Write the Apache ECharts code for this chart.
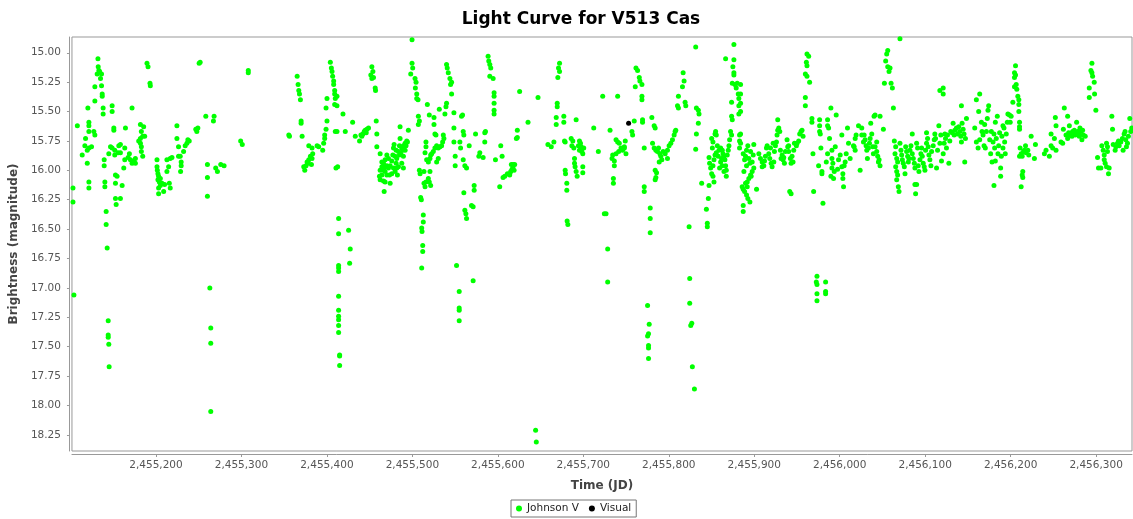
<!DOCTYPE html>
<html>
<head>
<meta charset="utf-8">
<title>Light Curve for V513 Cas</title>
<script src="https://cdn.jsdelivr.net/npm/echarts@6/dist/echarts.min.js"></script>
<style>
  html, body { margin: 0; padding: 0; background: #fff; }
  #main { width: 1133px; height: 519px; }
</style>
</head>
<body>
<div id="main"></div>
<script>
// tick labels
let jdTicks = [2455200, 2455300, 2455400, 2455500, 2455600, 2455700, 2455800, 2455900, 2456000, 2456100, 2456200, 2456300]
let magTicks = [15.00, 15.25, 15.50, 15.75, 16.00, 16.25, 16.50, 16.75, 17.00, 17.25, 17.50, 17.75, 18.00, 18.25]

// Johnson V, first season  [JD, mag]
let season1 = [
  [2455102.9,16.15],[2455102.9,16.27],[2455104.0,17.06],[2455108.0,15.62],
  [2455120.3,15.47],[2455117.6,15.73],[2455116.8,15.79],[2455119.6,15.83],[2455121.5,15.81],[2455124.6,15.80],[2455113.7,15.87],[2455119.6,15.94],[2455121.5,15.59],[2455121.5,15.62],[2455121.5,15.67],[2455127.3,15.67],[2455128.5,15.70],[2455121.5,16.10],[2455121.5,16.15],
  [2455132.1,15.05],[2455132.4,15.12],[2455133.2,15.15],[2455131.2,15.18],[2455134.0,15.16],[2455135.1,15.22],[2455136.3,15.18],[2455128.5,15.29],[2455136.3,15.28],[2455137.1,15.35],[2455137.1,15.37],[2455128.5,15.41],[2455138.2,15.47],[2455138.2,15.52],
  [2455139.4,15.91],[2455139.4,15.96],[2455140.2,16.10],[2455140.2,16.14],[2455141.7,16.35],[2455141.7,16.46],[2455142.9,16.66],[2455144.1,17.28],[2455144.1,17.40],[2455144.1,17.42],[2455144.8,17.48],[2455145.2,17.67],
  [2455148.7,15.45],[2455148.7,15.50],[2455150.7,15.64],[2455150.7,15.66],[2455146.8,15.80],[2455148.7,15.81],[2455144.8,15.86],[2455151.8,15.83],[2455151.8,15.87],[2455156.5,15.79],[2455158.4,15.78],[2455155.7,15.85],[2455158.4,15.85],[2455163.5,15.81],[2455164.3,15.64],[2455163.5,15.91],[2455167.4,15.89],[2455168.9,15.86],[2455170.1,15.91],[2455172.0,15.94],[2455175.9,15.94],[2455172.0,15.47],[2455152.6,16.04],[2455154.5,16.05],[2455152.6,16.11],[2455160.4,16.13],[2455162.3,15.98],[2455152.6,16.24],[2455158.4,16.24],[2455153.4,16.29],[2455175.9,15.90],[2455174.0,15.92],
  [2455181.8,15.61],[2455185.6,15.63],[2455182.9,15.67],[2455179.8,15.75],[2455181.8,15.77],[2455184.5,15.71],[2455186.8,15.71],[2455182.9,15.80],[2455182.9,15.84],[2455184.5,15.88],[2455181.8,15.73],
  [2455189.5,15.09],[2455190.7,15.12],[2455193.0,15.26],[2455193.4,15.28],
  [2455201.2,15.91],[2455201.2,15.97],[2455201.6,16.00],[2455202.3,16.03],[2455203.1,16.05],[2455202.3,16.08],[2455203.9,16.10],[2455205.1,16.07],[2455207.0,16.11],[2455203.1,16.15],[2455203.1,16.20],[2455209.0,16.18],[2455210.1,16.12],[2455212.8,16.01],[2455214.8,15.97],[2455212.8,15.91],[2455216.7,15.90],[2455218.7,15.89],[2455215.6,16.11],[2455216.7,16.15],[2455205.1,16.13],
  [2455224.5,15.62],[2455224.5,15.73],[2455226.4,15.80],[2455228.4,15.88],[2455229.5,15.93],[2455229.5,15.96],[2455228.8,16.01],[2455232.3,15.84],[2455234.2,15.79],[2455236.2,15.77],[2455237.3,15.74],[2455238.9,15.75],[2455226.4,15.88],
  [2455246.6,15.65],[2455247.8,15.67],[2455249.0,15.64],[2455250.5,15.09],[2455251.7,15.08],
  [2455258.3,15.54],[2455268.0,15.54],[2455267.2,15.58],
  [2455260.2,15.95],[2455260.2,16.06],[2455260.2,16.22],[2455269.9,15.98],[2455271.9,16.01],[2455275.8,15.95],[2455279.7,15.96],
  [2455263.0,17.00],[2455264.1,17.34],[2455264.1,17.47],[2455264.1,18.05],
  [2455308.0,15.15],[2455308.0,15.17],[2455299.1,15.75],[2455301.0,15.78]
]

// Johnson V, second season
let season2 = [
  [2455355.4,15.70],[2455356.2,15.71],
  [2455365.2,15.20],[2455366.3,15.27],[2455367.1,15.32],[2455367.9,15.35],[2455369.0,15.40],
  [2455369.8,15.58],[2455369.8,15.60],[2455371.0,15.71],
  [2455378.8,15.79],[2455382.6,15.81],[2455388.5,15.79],[2455390.4,15.80],[2455395.1,15.83],[2455396.2,15.77],[2455397.4,15.73],[2455397.4,15.70],[2455399.0,15.65],[2455400.1,15.58],[2455372.9,15.97],[2455374.1,16.00],[2455376.8,15.93],[2455378.8,15.91],[2455380.7,15.88],[2455382.6,15.90],[2455381.9,15.95],[2455383.4,15.86],[2455378.0,15.94],[2455375.6,15.96],
  [2455404.0,15.08],[2455405.2,15.13],[2455406.0,15.16],[2455406.7,15.20],[2455407.9,15.24],[2455407.9,15.27],[2455409.1,15.32],[2455409.1,15.35],[2455409.8,15.39],[2455409.1,15.44],[2455400.1,15.39],[2455399.0,15.47],[2455409.8,15.67],[2455410.6,15.98],
  [2455411.8,15.37],[2455411.8,15.45],[2455411.8,15.67],[2455412.6,15.97],[2455413.7,16.41],[2455413.7,16.54],[2455413.7,16.81],[2455413.7,16.83],[2455413.7,16.86],[2455413.7,17.07],[2455413.7,17.19],[2455413.7,17.24],[2455413.7,17.27],[2455413.7,17.32],[2455413.7,17.38],[2455414.9,17.57],[2455414.9,17.58],[2455414.9,17.66],
  [2455418.8,15.52],[2455421.5,15.67],[2455430.1,15.59],[2455425.4,16.51],[2455427.3,16.67],[2455426.6,16.79],
  [2455433.2,15.71],[2455438.2,15.75],[2455439.8,15.70],[2455442.1,15.69],[2455443.7,15.67],[2455444.8,15.66],[2455446.8,15.65],[2455448.7,15.64],[2455446.0,15.68],[2455440.9,15.71],
  [2455452.6,15.12],[2455453.8,15.16],[2455451.4,15.19],[2455454.5,15.21],[2455452.6,15.22],[2455456.5,15.30],[2455456.9,15.32],[2455457.7,15.58],[2455458.4,15.69],[2455458.4,15.80],
  [2455462.3,15.86],[2455464.3,15.93],[2455466.2,15.94],[2455468.1,15.91],[2455470.1,15.87],[2455464.3,15.97],[2455462.3,16.00],[2455466.2,16.00],[2455468.1,15.97],[2455470.1,15.96],[2455472.0,15.98],[2455461.5,16.05],[2455462.3,16.08],[2455466.2,16.09],[2455467.0,16.18],[2455468.1,16.10],[2455470.1,16.04],[2455473.2,16.04],[2455474.0,16.11],[2455475.9,15.92],[2455477.1,15.87],[2455477.9,15.81],[2455478.6,15.78],[2455479.8,15.88],[2455481.0,15.94],[2455481.7,15.98],[2455482.5,16.04],[2455483.7,15.97],[2455483.7,15.84],[2455484.9,15.79],[2455485.6,15.73],[2455485.6,15.63],[2455487.6,15.81],[2455488.7,15.83],[2455489.5,15.88],[2455489.5,15.98],[2455487.6,15.94],[2455491.5,15.77],[2455492.6,15.79],[2455493.4,15.75],[2455494.2,15.76],[2455495.3,15.66],[2455477.9,15.98],[2455479.8,16.01],[2455475.9,16.03],[2455472.0,15.90],[2455474.0,15.96],[2455468.1,16.01],[2455464.3,16.04],[2455481.7,15.90],[2455484.9,15.87],[2455486.4,15.86],[2455489.5,15.79],[2455491.5,15.83],[2455481.0,15.83],
  [2455499.6,14.89],[2455499.6,15.09],[2455500.4,15.13],[2455498.1,15.18],[2455503.1,15.22],[2455504.3,15.25],[2455503.5,15.30],[2455505.1,15.35],[2455505.1,15.39],[2455506.6,15.40],[2455507.0,15.54],[2455508.2,15.58],[2455507.0,15.61],[2455508.2,16.00],[2455509.0,16.03],[2455509.7,16.23],[2455510.5,16.25],[2455512.8,16.38],[2455512.8,16.44],[2455510.9,16.49],[2455511.3,16.52],[2455512.1,16.64],[2455512.1,16.69],[2455510.9,16.83],
  [2455517.5,15.44],[2455519.8,15.53],[2455525.3,15.55],[2455525.3,15.61],[2455526.4,15.69],[2455527.6,15.70],[2455515.9,15.76],[2455515.9,15.80],[2455514.8,15.85],[2455516.7,15.91],[2455518.7,15.93],[2455520.6,15.90],[2455521.4,15.87],[2455522.6,15.86],[2455524.5,15.84],[2455526.4,15.81],[2455528.4,15.79],[2455530.3,15.81],[2455532.3,15.80],[2455534.2,15.79],[2455535.4,15.76],[2455536.2,15.70],[2455536.9,15.73],[2455528.4,15.93],[2455530.3,15.90],[2455520.6,16.01],[2455518.7,16.07],[2455519.8,16.10],[2455515.9,16.10],[2455513.6,16.11],[2455514.8,16.14],[2455521.4,16.13],[2455513.6,16.01],[2455531.5,15.48],[2455538.1,15.52],[2455540.0,15.43],[2455539.3,15.46],
  [2455540.0,15.10],[2455540.8,15.13],[2455542.0,15.17],[2455543.9,15.22],[2455545.9,15.25],[2455544.7,15.27],[2455545.9,15.35],[2455548.6,15.51],[2455548.6,15.64],[2455548.6,15.76],[2455550.1,15.88],[2455550.1,15.96],[2455551.7,16.81],[2455554.8,17.03],[2455554.8,17.17],[2455554.8,17.19],[2455554.8,17.28],
  [2455555.6,15.76],[2455556.4,15.81],[2455557.5,15.54],[2455558.7,15.53],[2455559.5,15.67],[2455560.2,15.70],[2455559.5,15.91],[2455561.4,15.96],[2455563.4,15.98],[2455560.2,16.19],[2455561.4,16.34],[2455562.6,16.37],[2455563.4,16.41],[2455566.5,15.79],[2455569.2,16.30],
  [2455572.3,16.13],[2455572.3,16.17],[2455571.1,16.31],[2455571.1,16.94],
  [2455573.9,15.69],[2455584.7,15.68],[2455585.5,15.67],[2455584.7,15.76],[2455578.9,15.85],[2455577.8,15.88],[2455582.8,15.89],
  [2455588.6,15.03],[2455589.4,15.07],[2455590.6,15.10],[2455591.7,15.13],[2455590.6,15.20],[2455594.5,15.22],[2455595.6,15.34],[2455595.6,15.37],[2455595.6,15.43],[2455595.6,15.49],[2455595.6,15.52],
  [2455597.2,15.91],[2455603.4,15.79],[2455605.0,15.88],[2455602.2,16.14],
  [2455606.1,16.06],[2455608.1,16.05],[2455611.2,16.03],[2455613.9,16.03],[2455615.1,16.01],[2455616.6,15.99],[2455617.8,15.97],[2455619.0,16.00],[2455615.8,15.95],[2455617.8,15.95],[2455619.7,15.95],[2455613.9,16.04],
  [2455622.8,15.66],[2455621.7,15.73],[2455622.8,15.72],[2455625.5,15.33],[2455635.3,15.59],[2455647.0,15.38],
  [2455644.2,18.21],[2455645.0,18.31]
]

// Johnson V, third season
let season3 = [
  [2455658.6,15.78],[2455662.5,15.80],[2455665.6,15.76],
  [2455672.2,15.09],[2455671.0,15.13],[2455672.2,15.16],[2455670.2,15.21],[2455669.5,15.43],[2455669.5,15.46],[2455668.3,15.55],[2455668.3,15.61],[2455677.2,15.54],[2455677.2,15.59],[2455678.0,15.75],[2455678.8,15.76],
  [2455678.8,16.00],[2455679.2,16.03],[2455680.7,16.11],[2455680.7,16.17],[2455681.1,16.43],[2455681.9,16.46],
  [2455685.8,15.73],[2455687.7,15.75],[2455686.6,15.79],[2455688.9,15.81],[2455689.7,15.90],[2455689.7,15.94],[2455690.4,15.97],[2455691.6,16.01],[2455692.8,16.05],[2455691.6,15.57],[2455695.5,15.75],[2455696.7,15.77],[2455697.4,15.80],[2455695.5,15.83],[2455698.2,15.84],[2455700.5,15.81],[2455699.4,15.86],[2455699.4,15.97],[2455699.4,16.02],[2455694.3,15.79],
  [2455712.2,15.64],[2455717.6,15.84],[2455722.7,15.37],[2455724.6,16.37],
  [2455731.3,15.66],[2455726.6,16.37],[2455728.5,16.67],[2455728.5,16.95],[2455740.2,15.37],
  [2455738.3,15.74],[2455740.2,15.76],[2455742.1,15.77],[2455744.1,15.81],[2455746.0,15.83],[2455748.0,15.80],[2455749.1,15.75],[2455749.9,15.86],[2455741.4,15.84],[2455738.3,15.86],[2455734.4,15.87],[2455733.6,15.90],[2455736.3,15.92],[2455736.3,15.96],[2455735.2,16.07],[2455735.2,16.11],[2455748.0,15.81],
  [2455759.6,15.58],[2455756.9,15.67],[2455757.7,15.70],
  [2455761.6,15.13],[2455763.5,15.15],[2455765.5,15.21],[2455766.2,15.24],[2455768.6,15.27],[2455760.8,15.29],[2455768.6,15.37],[2455768.6,15.40],[2455769.3,15.57],[2455769.3,15.59],[2455771.3,15.81],[2455771.3,16.14],[2455771.3,16.18],
  [2455778.3,16.32],[2455778.3,16.41],[2455778.3,16.53],[2455775.2,17.15],[2455777.1,17.31],[2455776.3,17.39],[2455775.2,17.41],[2455776.3,17.49],[2455776.3,17.51],[2455776.3,17.60],
  [2455780.2,15.55],[2455782.9,15.62],[2455784.1,15.64],[2455781.0,15.77],[2455782.9,15.81],[2455784.9,15.83],[2455786.8,15.84],[2455788.0,15.81],[2455789.6,15.86],[2455790.7,15.88],[2455788.8,15.93],[2455791.9,15.91],[2455793.4,15.84],[2455795.8,15.86],[2455798.5,15.83],[2455798.5,15.90],[2455800.4,15.79],[2455802.4,15.77],[2455804.3,15.74],[2455806.3,15.70],[2455807.4,15.67],[2455808.2,15.66],[2455784.1,16.00],[2455785.7,16.02],[2455784.1,16.08],[2455784.9,16.06],[2455811.3,15.37],[2455810.2,15.45],[2455811.3,15.47],[2455816.8,15.17],[2455817.9,15.24],[2455816.0,15.29],[2455819.1,15.42],[2455819.9,15.45],
  [2455831.5,14.95],[2455823.8,16.48],[2455824.5,16.92],[2455824.5,17.13],[2455826.9,17.30],[2455825.7,17.32],[2455827.6,17.67],[2455830.0,17.86],
  [2455832.3,15.47],[2455834.6,15.49],[2455835.4,15.52],[2455834.6,15.60],[2455832.3,15.69],[2455831.5,15.82],[2455838.5,16.11],
  [2455847.1,16.13],[2455846.3,16.24],[2455844.0,16.33],[2455845.1,16.45],[2455845.1,16.48],
  [2455847.1,15.89],[2455847.8,15.94],[2455849.0,15.98],[2455850.2,16.03],[2455851.7,16.05],[2455852.9,16.10],[2455851.7,15.96],[2455852.9,15.91],[2455851.0,15.81],[2455851.7,15.76],[2455850.2,15.73],[2455854.1,15.69],[2455854.8,15.67],[2455855.6,15.70],[2455856.8,15.79],[2455858.7,15.83],[2455860.7,15.81],[2455862.6,15.83],[2455863.4,15.86],[2455864.6,15.88],[2455865.7,15.91],[2455866.5,15.96],[2455867.3,16.00],[2455867.3,16.05],[2455868.4,15.87],[2455869.6,15.83],[2455870.4,15.79],[2455871.2,15.74],[2455872.3,15.67],[2455857.9,15.88],[2455860.7,15.93],[2455862.6,15.96],[2455855.6,15.85],[2455854.1,15.87],[2455859.5,15.98],[2455864.6,16.01],[2455861.8,15.90],
  [2455876.2,14.93],[2455866.5,15.05],[2455876.2,15.06],[2455875.0,15.12],[2455876.2,15.17],[2455876.2,15.19],[2455874.3,15.26],[2455877.4,15.27],[2455880.1,15.26],[2455878.9,15.30],[2455881.3,15.35],[2455882.0,15.39],[2455882.0,15.45],[2455882.0,15.52],[2455873.5,15.42],[2455873.5,15.54],[2455874.3,15.57],[2455873.5,15.70],[2455882.8,15.70],[2455882.8,15.75],[2455882.8,15.81],
  [2455884.0,15.27],[2455884.0,15.35],[2455884.0,15.43],[2455884.0,15.50],[2455884.0,15.69],[2455884.0,15.77],[2455887.1,15.86],[2455888.7,15.91],[2455889.8,15.88],[2455891.0,15.83],[2455892.5,15.79],[2455893.7,15.90],[2455891.0,15.96],[2455887.9,16.01],[2455885.9,16.14],[2455887.1,16.16],[2455888.7,16.18],[2455889.8,16.11],[2455891.8,16.10],[2455893.7,16.07],[2455895.7,16.04],[2455897.6,16.01],[2455899.5,15.98],[2455891.0,16.21],[2455892.5,16.24],[2455894.9,16.27],[2455887.1,16.30],[2455887.1,16.35],[2455897.6,15.93],[2455898.8,15.87],[2455895.7,15.84],[2455902.7,16.16],[2455899.5,15.78],[2455894.9,15.94],[2455896.4,16.05],[2455891.8,16.14],
  [2455905.4,15.86],[2455907.3,15.90],[2455909.3,15.93],[2455911.2,15.96],[2455913.1,15.88],[2455914.3,15.81],[2455915.1,15.79],[2455917.0,15.86],[2455918.2,15.90],[2455919.8,15.94],[2455920.9,15.97],[2455922.9,15.93],[2455923.6,15.84],[2455924.8,15.79],[2455926.0,15.76],[2455926.7,15.70],[2455927.5,15.66],[2455927.5,15.57],[2455928.7,15.64],[2455929.9,15.67],[2455930.6,15.83],[2455931.4,15.90],[2455932.6,15.87],[2455933.7,15.91],[2455935.3,15.94],[2455936.5,15.84],[2455938.4,15.74],[2455939.2,15.80],[2455940.3,15.84],[2455942.3,15.90],[2455943.1,15.94],[2455944.2,15.88],[2455945.4,15.93],[2455946.2,15.83],[2455947.0,15.77],[2455949.3,15.79],[2455950.1,15.77],[2455952.0,15.75],[2455953.2,15.69],[2455954.7,15.67],[2455955.9,15.66],[2455957.1,15.71],[2455941.5,16.18],[2455943.1,16.20],[2455940.3,15.79],[2455909.3,15.97],[2455912.0,15.92],[2455919.0,15.81],[2455922.1,15.77],[2455934.5,15.89],
  [2455961.7,15.01],[2455963.7,15.03],[2455961.0,15.08],[2455961.7,15.11],[2455959.8,15.18],[2455961.7,15.20],[2455964.8,15.25],[2455959.8,15.38],[2455959.8,15.45],[2455967.5,15.56],[2455967.5,15.59],[2455968.7,15.86],[2455969.5,16.18],
  [2455973.4,16.90],[2455972.6,16.95],[2455973.4,16.97],[2455973.4,17.05],[2455973.4,17.11],[2455983.5,16.95],[2455983.5,17.03],[2455983.5,17.05],
  [2455976.5,15.57],[2455976.5,15.62],[2455976.5,15.67],[2455977.3,15.69],[2455978.0,15.81],[2455975.3,15.96],[2455979.2,16.01],[2455979.2,16.03],[2455980.4,16.28],[2455985.8,15.57],[2455985.8,15.62],[2455987.0,15.64],[2455988.1,15.73],[2455985.8,15.86],[2455984.3,15.93],[2455989.7,15.47],[2455995.9,15.53],[2455990.9,15.83],[2455990.9,15.90],[2455992.0,15.94],[2455990.9,15.98],[2455989.7,16.05],[2455992.8,16.07],[2455994.8,15.80],[2455993.6,16.01],[2455997.5,15.99],[2455998.6,15.91]
]

// Johnson V, fourth season
let season4 = [
  [2456000.6,15.87],[2456002.5,15.70],[2456002.5,15.97],[2456003.7,16.03],[2456003.7,16.07],[2456004.5,16.14],[2456005.2,15.96],[2456006.4,15.93],[2456007.6,15.86],[2456009.1,15.64],[2456010.3,15.77],[2456012.2,15.90],[2456016.1,15.79],[2456018.1,15.73],[2456019.2,15.70],[2456018.1,15.83],[2456022.0,15.62],[2456023.9,16.00],[2456025.8,15.70],[2456027.8,15.76],[2456029.7,15.74],[2456030.9,15.79],[2456031.7,15.83],[2456032.4,15.90],[2456028.6,15.70],[2456033.6,15.81],[2456034.8,15.77],[2456035.6,15.73],[2456036.3,15.60],[2456037.5,15.69],[2456038.7,15.80],[2456039.4,15.86],[2456040.2,15.54],[2456025.8,15.64],[2456016.9,15.80],
  [2456041.4,15.80],[2456043.3,15.84],[2456044.5,15.88],[2456046.1,15.91],[2456047.2,15.96],[2456045.3,15.93],[2456041.4,15.53],[2456047.2,15.54],[2456051.1,15.65],[2456043.3,15.76],
  [2456070.5,14.88],[2456056.2,14.98],[2456055.0,15.01],[2456053.8,15.07],[2456056.2,15.12],[2456058.9,15.13],[2456057.7,15.16],[2456052.3,15.26],[2456060.1,15.26],[2456061.6,15.30],[2456062.8,15.47],
  [2456063.9,15.75],[2456065.5,15.80],[2456064.7,15.86],[2456066.7,15.90],[2456067.8,15.93],[2456065.5,15.97],[2456066.7,16.01],[2456067.8,16.04],[2456066.7,16.08],[2456068.6,16.14],[2456069.4,16.18],[2456070.5,15.77],[2456071.7,15.83],[2456072.5,15.87],[2456073.3,15.91],[2456074.4,15.94],[2456075.6,15.97],[2456076.4,16.03],[2456077.2,15.80],[2456078.3,15.84],[2456079.5,15.88],[2456080.3,15.93],[2456081.0,15.90],[2456082.2,15.83],[2456083.4,15.79],[2456084.9,15.69],[2456084.9,15.86],[2456086.1,15.90],[2456087.3,15.94],[2456088.0,15.98],[2456088.0,16.12],[2456088.8,16.20],[2456090.0,16.12],[2456090.0,15.77],[2456091.1,15.81],[2456091.9,15.96],[2456092.7,16.01],[2456093.9,15.91],[2456095.0,15.86],[2456095.8,15.81],[2456096.6,15.88],[2456097.7,15.94],[2456098.9,15.97],[2456099.7,16.00],[2456100.5,15.83],[2456101.6,15.68],[2456101.6,15.77],[2456102.8,15.73],[2456103.6,15.80],[2456104.4,15.87],[2456105.5,15.91],[2456106.7,15.96],[2456107.5,15.84],[2456109.4,15.79],[2456110.6,15.74],[2456111.3,15.69],[2456112.1,15.73],[2456113.3,15.98],[2456114.5,15.83],[2456116.0,15.62],[2456117.2,15.77],[2456118.3,15.70],[2456119.1,15.92],[2456121.1,15.86],[2456122.2,15.77],[2456123.0,15.69],[2456123.8,15.73],[2456124.9,15.81],[2456126.1,15.70],[2456127.7,15.94],[2456128.8,15.75],[2456130.0,15.67],[2456131.6,15.68],[2456132.7,15.60],[2456133.9,15.70],[2456134.7,15.66],[2456136.6,15.64],[2456137.8,15.69],[2456139.3,15.63],[2456140.5,15.67],[2456141.7,15.71],[2456142.4,15.76],[2456143.2,15.60],[2456144.4,15.65],[2456145.5,15.69],[2456146.3,15.93],[2456147.1,15.73],[2456148.3,15.56],[2456142.4,15.45],
  [2456117.2,15.32],[2456121.1,15.30],[2456121.1,15.35],
  [2456158.0,15.64],[2456159.9,15.40],[2456163.8,15.35],[2456162.6,15.50],[2456165.8,15.59],[2456167.7,15.70],[2456168.9,15.79],[2456169.6,15.61],[2456170.4,15.81],[2456171.6,15.67],[2456172.7,15.56],[2456173.5,15.49],[2456174.3,15.45],[2456175.5,15.74],[2456176.6,15.86],[2456177.4,15.67],[2456178.2,15.93],[2456179.4,15.76],[2456180.5,15.69],[2456181.3,15.81],[2456182.1,15.59],[2456183.2,15.73],[2456184.4,15.54],[2456185.2,15.86],[2456186.0,15.79],[2456187.1,15.68],[2456188.3,15.98],[2456188.3,16.05],[2456189.1,15.88],[2456189.8,15.71],[2456191.0,15.62],[2456191.0,15.81],[2456192.2,15.64],[2456193.0,15.76],[2456193.7,15.86],[2456194.9,15.69],[2456196.1,15.59],[2456196.8,15.52],[2456180.5,16.13],[2456182.1,15.92],[2456159.9,15.76],[2456163.8,15.74],[2456166.5,15.67],[2456161.9,15.81],
  [2456198.7,15.53],[2456200.6,15.54],[2456199.5,15.59],[2456202.6,15.42],[2456205.7,15.11],[2456204.5,15.17],[2456205.7,15.19],[2456204.5,15.21],[2456206.5,15.27],[2456204.5,15.29],[2456207.2,15.31],[2456208.4,15.37],[2456209.6,15.40],[2456209.6,15.44],[2456209.6,15.50],[2456210.4,15.59],[2456210.4,15.63],[2456210.4,15.65],[2456211.1,15.81],[2456212.3,15.86],[2456210.4,15.88],[2456213.5,15.88],[2456215.0,15.84],[2456216.2,15.83],[2456218.1,15.85],[2456220.1,15.83],[2456221.2,15.87],[2456217.4,15.79],[2456214.2,16.01],[2456213.5,16.04],[2456214.2,16.06],[2456212.3,16.14],[2456224.0,15.71],[2456229.0,15.78],[2456227.8,15.90],
  [2456239.5,15.86],[2456241.4,15.83],[2456245.3,15.88],[2456247.3,15.79],[2456249.2,15.81],[2456251.2,15.73],[2456253.1,15.83],[2456247.3,15.69],[2456253.1,15.62],[2456252.3,15.55],[2456258.9,15.76],[2456260.9,15.77],[2456261.7,15.65],[2456262.8,15.47],[2456264.8,15.70],[2456266.7,15.73],[2456267.9,15.68],[2456266.7,15.54],[2456268.7,15.62],[2456269.4,15.70],[2456270.6,15.69],[2456271.8,15.71],[2456272.5,15.67],[2456273.3,15.69],[2456274.5,15.66],[2456275.6,15.70],[2456276.4,15.68],[2456277.2,15.59],[2456278.4,15.67],[2456279.5,15.69],[2456280.3,15.71],[2456281.1,15.64],[2456282.3,15.67],[2456283.4,15.74],[2456284.2,15.66],[2456285.0,15.70],[2456287.3,15.71],
  [2456295.1,15.09],[2456293.9,15.15],[2456295.1,15.17],[2456295.9,15.20],[2456297.8,15.25],[2456292.0,15.30],[2456298.2,15.35],[2456292.0,15.38],[2456299.7,15.49],
  [2456301.7,15.89],[2456302.8,15.98],[2456305.6,15.98],[2456306.7,15.79],[2456308.3,15.83],[2456309.5,15.87],[2456309.5,15.91],[2456310.6,15.94],[2456312.2,15.97],[2456313.3,15.80],[2456312.2,15.77],[2456314.5,16.03],[2456315.3,15.98],[2456313.3,15.84],[2456318.4,15.54],[2456319.2,15.65],[2456320.0,15.78],[2456322.3,15.83],[2456323.1,15.80],[2456325.0,15.77],[2456326.2,15.75],[2456327.0,15.79],[2456328.9,15.76],[2456330.8,15.73],[2456331.6,15.83],[2456332.8,15.69],[2456333.9,15.67],[2456334.7,15.74],[2456335.5,15.80],[2456336.7,15.77],[2456337.8,15.71],[2456339.4,15.56],[2456340.5,15.67],[2456341.7,15.64]
]

// Visual observations
let visual = [
  [2455753.0,15.60]
]

let johnsonV = season1.concat(season2, season3, season4)

let labelFont = 'DejaVu Sans'

let option = {
  animation: false,
  title: {
    text: 'Light Curve for V513 Cas',
    left: 576,
    top: 6,
    textAlign: 'center',
    textStyle: { fontFamily: labelFont, fontSize: 17, fontWeight: 'bold', color: '#000' }
  },
  legend: {
    left: 511,
    top: 500,
    orient: 'horizontal',
    itemWidth: 6,
    itemHeight: 6,
    itemGap: 10,
    padding: [3, 5, 3, 5],
    borderColor: '#777',
    borderWidth: 1,
    borderRadius: 0,
    textStyle: { fontFamily: labelFont, fontSize: 10.5, color: '#222' },
    data: [
      { name: 'Johnson V', icon: 'circle' },
      { name: 'Visual', icon: 'circle' }
    ]
  },
  grid: {
    left: 69,
    right: 1,
    top: 37,
    bottom: 68,
    show: true,
    borderColor: '#999',
    borderWidth: 1,
    backgroundColor: '#fff'
  },
  xAxis: {
    type: 'value',
    min: 2455101.7,
    max: 2456342,
    offset: 3,
    name: 'Time (JD)',
    nameLocation: 'middle',
    nameGap: 26,
    nameTextStyle: { fontFamily: labelFont, fontSize: 12, fontWeight: 'bold', color: '#444' },
    axisLine: { show: true, lineStyle: { color: '#999', width: 1 } },
    axisTick: { show: true, length: 3, lineStyle: { color: '#999' }, customValues: jdTicks },
    axisLabel: {
      customValues: jdTicks,
      margin: 6,
      fontFamily: labelFont,
      fontSize: 10.5,
      color: '#555',
      formatter: function (v) { return String(Math.round(v)).replace(/\B(?=(\d{3})+(?!\d))/g, ',') }
    },
    splitLine: { show: false }
  },
  yAxis: {
    type: 'value',
    inverse: true,
    min: 14.866,
    max: 18.387,
    offset: 3,
    name: 'Brightness (magnitude)',
    nameLocation: 'middle',
    nameGap: 44,
    nameTextStyle: { fontFamily: labelFont, fontSize: 12, fontWeight: 'bold', color: '#444' },
    axisLine: { show: true, lineStyle: { color: '#999', width: 1 } },
    axisTick: { show: true, length: 2, lineStyle: { color: '#999' }, customValues: magTicks },
    axisLabel: {
      customValues: magTicks,
      margin: 8,
      fontFamily: labelFont,
      fontSize: 10.5,
      color: '#555',
      formatter: function (v) { return v.toFixed(2) }
    },
    splitLine: { show: false }
  },
  series: [
    {
      name: 'Johnson V',
      type: 'scatter',
      symbol: 'circle',
      symbolSize: 5,
      itemStyle: { color: '#00ff00', opacity: 1 },
      data: johnsonV
    },
    {
      name: 'Visual',
      type: 'scatter',
      symbol: 'circle',
      symbolSize: 5,
      itemStyle: { color: '#000000', opacity: 1 },
      data: visual
    }
  ]
}

let myChart = echarts.init(document.getElementById('main'))
myChart.setOption(option)
</script>
</body>
</html>
